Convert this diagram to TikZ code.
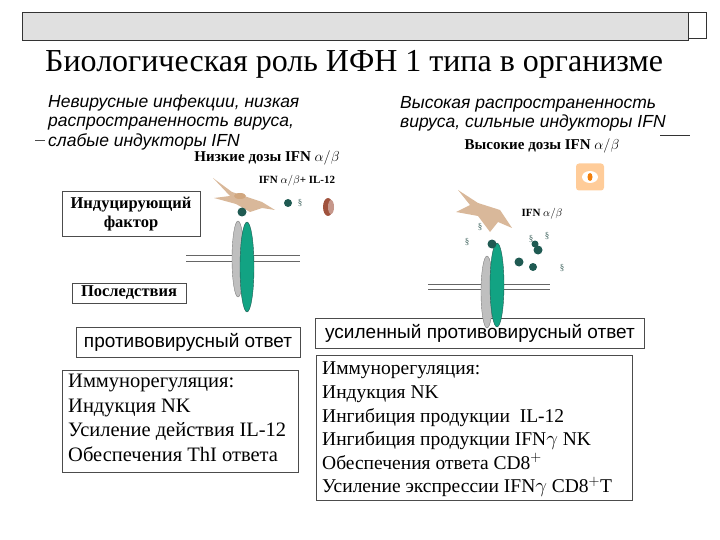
\documentclass[tikz,border=0pt]{standalone}
\usepackage{fontspec}
\setmainfont{Liberation Serif}
\newfontfamily\arialf{Liberation Sans}
\definecolor{grn}{HTML}{12A383}
\definecolor{dgrn}{HTML}{1F5A52}
\definecolor{tan}{HTML}{D9B89A}
\definecolor{brn}{HTML}{A0523D}
\begin{document}
\begin{tikzpicture}[x=1pt,y=-1pt,
  box/.style={draw=black!70,line width=0.6pt,fill=white},
  it/.style={font=\arialf\itshape\fontsize{17.5}{19.5}\selectfont,anchor=west,align=left,inner sep=0pt},
  bs/.style={font=\bfseries\fontsize{14}{15}\selectfont},
  mem/.style={draw=black!60,line width=0.7pt},
  dot/.style={fill=dgrn,draw=none},
  sm/.style={font=\fontsize{9}{9}\selectfont,text=dgrn!60!gray,inner sep=0pt}]
\useasboundingbox (0,0) rectangle (720,540);
% header
\node[draw=black!80,fill=black!12,minimum width=666,minimum height=28,anchor=north west,inner sep=0pt] (bar) at (22,12) {};
\node[draw=black!80,fill=white,minimum width=18,minimum height=26,anchor=north west,inner sep=0pt] (sq) at (688,12) {};
\node[anchor=base west,font=\fontsize{32}{33}\selectfont,inner sep=0pt] (title) at (45,72) {Биологическая роль ИФН 1 типа в организме};
% left texts
\node[it] (lt) at (48,122) {Невирусные инфекции, низкая\\распространенность вируса,\\слабые индукторы IFN};
\coordinate (la) at (35,140); \coordinate (lb) at (45,140);
\draw[black!70] (la) -- (lb);
\node[bs,font=\bfseries\fontsize{15}{16}\selectfont] (ld) at (267,158) {Низкие дозы IFN $\alpha/\beta$};
\node[bs,font=\bfseries\fontsize{11}{12}\selectfont] (lil) at (297,181) {IFN $\alpha/\beta$+ IL-12};
\node[box,minimum width=138,minimum height=45,align=center,font=\bfseries\fontsize{16.5}{19}\selectfont,inner sep=0pt] (ind) at (131,214) {Индуцирующий\\фактор};
\node[box,minimum width=114,minimum height=20,font=\bfseries\fontsize{16.5}{17}\selectfont,inner sep=0pt] (pos) at (129,293) {Последствия};
\node[box,minimum width=224,minimum height=30,font=\arialf\fontsize{19}{20}\selectfont,inner sep=0pt] (pro) at (188,342) {противовирусный ответ};
\node[box,minimum width=236,minimum height=102,anchor=north west,inner sep=0pt] (imL) at (62,370) {};
\node[anchor=north west,align=left,font=\fontsize{20.5}{24.5}\selectfont,inner sep=0pt] (imLt) at (68,374) {Иммунорегуляция:\\Индукция NK\\Усиление действия IL-12\\Обеспечения ThI ответа};
% left cell
\coordinate (m1) at (186,255); \coordinate (m2) at (300,255);
\coordinate (m3) at (186,261); \coordinate (m4) at (300,261);
\draw[mem] (m1) -- (m2); \draw[mem] (m3) -- (m4);
\filldraw[fill=black!25,draw=black!50] (238,259) ellipse (6 and 38);
\filldraw[fill=grn,draw=dgrn] (247,267) ellipse (7 and 45);
\fill[tan] (213,178) -- (232,192) -- (262,202) -- (275,210) -- (262,208) -- (250,212) -- (236,204) -- (214,198) -- (230,196) -- cycle;
\fill[tan!70!brown] (240,196) ellipse (6 and 3);
\fill[dot] (242,212) circle (4.5); \fill[dot] (288,203) circle (4);
\node[sm] (s1) at (300,203) {\textsection};
\fill[brn] (328,207) ellipse (5 and 9);
\fill[brn!60] (331,207) ellipse (3 and 7);
% right texts
\node[it] (rt) at (400,114) {Высокая распространенность\\вируса, сильные индукторы IFN};
\coordinate (ra) at (660,135); \coordinate (rb) at (690,135);
\draw[black!80] (ra) -- (rb);
\node[bs,font=\bfseries\fontsize{15}{16}\selectfont] (rd) at (542,146) {Высокие дозы IFN $\alpha/\beta$};
\node[fill=orange!40,rounded corners=3,minimum width=28,minimum height=27,inner sep=0pt] (ic) at (590,177) {};
\fill[white] (590,177) ellipse (8 and 6);
\fill[orange!80!brown] (590,177) ellipse (2.5 and 4);
\node[bs,font=\bfseries\fontsize{11}{12}\selectfont] (ril) at (542,214) {IFN $\alpha/\beta$};
\node[box,minimum width=329,minimum height=30,font=\arialf\fontsize{19}{20}\selectfont,inner sep=0pt] (usi) at (480,333) {усиленный противовирусный ответ};
\node[box,minimum width=316,minimum height=145,anchor=north west,inner sep=0pt] (imR) at (316,355) {};
\node[anchor=north west,align=left,font=\fontsize{19.5}{23.6}\selectfont,inner sep=0pt] (imRt) at (322,362) {Иммунорегуляция:\\Индукция NK\\Ингибиция продукции\ \ IL-12\\Ингибиция продукции IFN$\gamma$ NK\\Обеспечения ответа CD8$^+$\\Усиление экспрессии IFN$\gamma$ CD8$^{+}$T};
% right cell
\coordinate (n1) at (428,284); \coordinate (n2) at (550,284);
\coordinate (n3) at (428,289); \coordinate (n4) at (550,289);
\draw[mem] (n1) -- (n2); \draw[mem] (n3) -- (n4);
\filldraw[fill=black!25,draw=black!50] (487,292) ellipse (6 and 36);
\filldraw[fill=grn,draw=dgrn] (497,285) ellipse (7 and 42);
\fill[tan] (458,190) -- (478,203) -- (500,210) -- (512,228) -- (498,222) -- (490,232) -- (478,216) -- (456,212) -- (470,205) -- cycle;
\fill[dot] (492,244) circle (4.5);
\fill[dot] (519,262) circle (4.5); \fill[dot] (538,250) circle (4.5);
\fill[dot] (533,267) circle (4); \fill[dot] (535,244) circle (3.5);
\node[sm] (s2) at (480,227) {\textsection};
\node[sm] (s3) at (467,242) {\textsection};
\node[sm] (s4) at (531,239) {\textsection};
\node[sm] (s5) at (547,236) {\textsection};
\node[sm] (s6) at (562,268) {\textsection};
\end{tikzpicture}
\end{document}
